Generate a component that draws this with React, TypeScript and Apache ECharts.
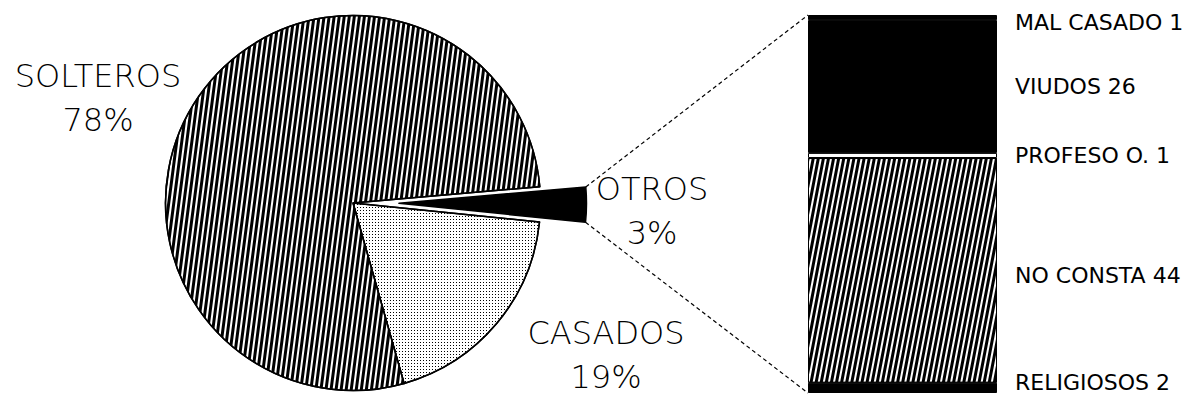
import React, { useEffect, useRef } from 'react';
import * as echarts from 'echarts';

// ---- data ----
const pieNames = ['OTROS', 'CASADOS', 'SOLTEROS'];
const pieValues = [3, 19, 78];
const barNames = ['RELIGIOSOS', 'NO CONSTA', 'PROFESO O.', 'VIUDOS', 'MAL CASADO'];
const barValues = [2, 44, 1, 26, 1];

// ---- layout ----
const PIE_CX = 353;
const PIE_CY = 203;
const PIE_R = 187.5;
const EXPLODE = 46;
const START = 5;
const BAR_LEFT = 808;
const BAR_W = 189;
const BAR_TOP = 15;
const BAR_H = 378;
const pieLabelPos: number[][] = [[652, 211], [606, 355], [98, 98]];
const barLabelDy = [-5, 5, 0, 0, 5];

const hatchPie = {
  symbol: 'rect',
  symbolSize: 1,
  color: '#000',
  backgroundColor: '#fff',
  dashArrayX: [1, 0],
  dashArrayY: [2.2, 1.5],
  rotation: 1.7,
};
const hatchBar = {
  symbol: 'rect',
  symbolSize: 1,
  color: '#000',
  backgroundColor: '#fff',
  dashArrayX: [1, 0],
  dashArrayY: [2.2, 1.9],
  rotation: 1.76,
};
const stipple = {
  symbol: 'rect',
  symbolSize: 1,
  color: '#000',
  backgroundColor: '#fff',
  dashArrayX: [1, 2],
  dashArrayY: [1, 2],
  rotation: 0,
};

const pieStyles: any[] = [
  { color: '#000' },
  { color: '#fff', decal: stipple },
  { color: '#fff', decal: hatchPie },
];
const barStyles: any[] = [
  { color: '#000' },
  { color: '#fff', decal: hatchBar },
  { color: '#fff' },
  { color: '#000' },
  { color: '#000' },
];

const hidden = { color: 'rgba(0,0,0,0)', borderWidth: 0 };

export default function App() {
  const ref = useRef<HTMLDivElement>(null);
  useEffect(() => {
    document.body.style.margin = '0';
    const chart = echarts.init(ref.current!, null, { renderer: 'svg' });
    const total = pieValues.reduce((a, b) => a + b, 0);
    const otrosSweep = (pieValues[0] / total) * 360;
    const mid = ((START - otrosSweep / 2) * Math.PI) / 180;
    const ocx = PIE_CX + EXPLODE * Math.cos(mid);
    const ocy = PIE_CY - EXPLODE * Math.sin(mid);
    const a1 = (START * Math.PI) / 180;
    const a2 = ((START - otrosSweep) * Math.PI) / 180;
    const c1 = [ocx + PIE_R * Math.cos(a1), ocy - PIE_R * Math.sin(a1)];
    const c2 = [ocx + PIE_R * Math.cos(a2), ocy - PIE_R * Math.sin(a2)];

    const barSeries = barNames.map((n, i) => ({
      type: 'bar',
      name: n,
      stack: 'otros',
      barWidth: '100%',
      data: [barValues[i]],
      itemStyle: { ...barStyles[i], borderColor: '#000', borderWidth: 1 },
      label: {
        show: true,
        position: 'right',
        distance: 18,
        offset: [0, barLabelDy[i]],
        formatter: (p: any) => `${p.seriesName} ${p.value}`,
        color: '#000',
        fontFamily: 'DejaVu Sans',
        fontSize: 22,
      },
      emphasis: { disabled: true },
    }));

    const pieBase = {
      type: 'pie',
      radius: PIE_R,
      startAngle: START,
      clockwise: true,
      avoidLabelOverlap: false,
      emphasis: { disabled: true },
      labelLine: { show: false },
    };

    chart.setOption({
      animation: false,
      grid: { left: BAR_LEFT, width: BAR_W, top: BAR_TOP, height: BAR_H },
      xAxis: { type: 'category', data: [''], show: false },
      yAxis: { type: 'value', min: 0, max: barValues.reduce((a, b) => a + b, 0), show: false },
      series: [
        {
          ...pieBase,
          center: [PIE_CX, PIE_CY],
          data: pieNames.map((n, i) => ({
            name: n,
            value: pieValues[i],
            itemStyle:
              i === 0 ? hidden : { ...pieStyles[i], borderColor: '#000', borderWidth: 1.5 },
          })),
          label: {
            show: true,
            position: 'outside',
            formatter: (p: any) => `${p.name}\n${Math.round(p.percent)}%`,
            color: '#000',
            fontFamily: 'DejaVu Sans',
            fontWeight: 200,
            fontSize: 32,
            lineHeight: 44,
            align: 'center',
          },
          labelLayout: (params: any) => ({
            x: pieLabelPos[params.dataIndex][0],
            y: pieLabelPos[params.dataIndex][1],
            align: 'center',
            verticalAlign: 'middle',
          }),
        },
        {
          ...pieBase,
          center: [ocx, ocy],
          silent: true,
          label: { show: false },
          data: pieNames.map((n, i) => ({
            name: n,
            value: pieValues[i],
            itemStyle:
              i === 0 ? { ...pieStyles[i], borderColor: '#000', borderWidth: 1.5 } : hidden,
          })),
        },
        ...barSeries,
      ],
      graphic: [
        {
          type: 'line',
          shape: { x1: c1[0], y1: c1[1], x2: BAR_LEFT, y2: BAR_TOP },
          style: { stroke: '#000', lineWidth: 1.2, lineDash: [4, 3] },
          silent: true,
        },
        {
          type: 'line',
          shape: { x1: c2[0], y1: c2[1], x2: BAR_LEFT, y2: BAR_TOP + BAR_H },
          style: { stroke: '#000', lineWidth: 1.2, lineDash: [4, 3] },
          silent: true,
        },
      ],
    });
    return () => chart.dispose();
  }, []);
  return <div ref={ref} style={{ width: 1196, height: 405 }} />;
}
